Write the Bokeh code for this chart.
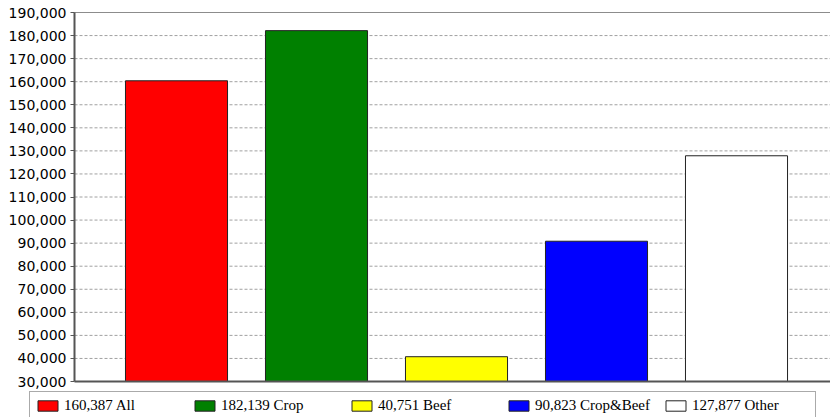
from bokeh.plotting import figure
from bokeh.models import (ColumnDataSource, Range1d, NumeralTickFormatter,
                          FixedTicker, Legend, LegendItem, LinearAxis)
from bokeh.embed import file_html
from bokeh.resources import INLINE

# Herd category averages
categories = ["All", "Crop", "Beef", "Crop&Beef", "Other"]
values = [160387, 182139, 40751, 90823, 127877]
colors = ["#ff0000", "#008000", "#ffff00", "#0000ff", "#ffffff"]
y_ticks = list(range(30000, 190001, 10000))

labels = [f"{v:,} {c}" for v, c in zip(values, categories)]
positions = list(range(1, len(categories) + 1))

# value axis limits and where the axis sits on the category scale
Y_LO, Y_HI = 30000, 190000
X_AXIS_AT, X_END = 0.2714, 5.6714

W, H = 830, 417
PX_PER_X = 140.0                      # pixels per category step
PX_PER_Y = 369.0 / (Y_HI - Y_LO)      # pixels per unit of value
TOP_PAD, BOTTOM_PAD, LEFT_PAD = 12, 36, 74

x_start = X_AXIS_AT - LEFT_PAD / PX_PER_X
y_start = Y_LO - BOTTOM_PAD / PX_PER_Y
y_end = Y_HI + TOP_PAD / PX_PER_Y

source = ColumnDataSource(dict(x=positions, top=values, color=colors, label=labels))

p = figure(width=W, height=H, output_backend="svg", toolbar_location=None,
           x_range=Range1d(x_start, X_END), y_range=Range1d(y_start, y_end),
           x_axis_location=None, y_axis_location=None,
           min_border_left=0, min_border_right=0, min_border_top=0,
           min_border_bottom=0)
p.background_fill_color = "white"
p.border_fill_color = "white"
p.outline_line_color = None
p.xgrid.visible = False
p.ygrid.visible = False

# dashed horizontal grid lines, only across the plotting area
p.segment(x0=X_AXIS_AT, x1=X_END, y0=y_ticks[1:], y1=y_ticks[1:],
          line_color="#a0a0a0", line_dash="3 2", line_width=1)

bars = p.vbar(x="x", top="top", bottom=Y_LO, width=0.729, source=source,
              fill_color="color", line_color="#222222", line_width=1)

# value axis
yaxis = LinearAxis(fixed_location=X_AXIS_AT, bounds=(Y_LO, Y_HI),
                   ticker=FixedTicker(ticks=y_ticks),
                   formatter=NumeralTickFormatter(format="0,0"))
yaxis.major_label_text_font = "DejaVu Sans"
yaxis.major_label_text_font_size = "14px"
yaxis.major_label_text_color = "#000000"
yaxis.major_label_standoff = 4
yaxis.axis_line_color = "#555555"
yaxis.axis_line_width = 2
yaxis.major_tick_line_color = "#555555"
yaxis.major_tick_out = 4
yaxis.major_tick_in = 0
yaxis.minor_tick_line_color = None
p.add_layout(yaxis, "left")

# baseline at the bottom of the bars
xaxis = LinearAxis(fixed_location=Y_LO, bounds=(X_AXIS_AT, X_END),
                   ticker=FixedTicker(ticks=[]))
xaxis.axis_line_color = "#555555"
xaxis.axis_line_width = 2
xaxis.major_tick_line_color = None
xaxis.minor_tick_line_color = None
p.add_layout(xaxis, "below")

# thin frame line along the top
topline = LinearAxis(fixed_location=Y_HI, bounds=(X_AXIS_AT, X_END),
                     ticker=FixedTicker(ticks=[]))
topline.axis_line_color = "#8c8c8c"
topline.axis_line_width = 1
topline.major_tick_line_color = None
topline.minor_tick_line_color = None
p.add_layout(topline, "above")

items = [LegendItem(label=lab, renderers=[bars], index=i) for i, lab in enumerate(labels)]
legend = Legend(items=items, orientation="horizontal", location=(29, -3),
                glyph_width=25, glyph_height=13, label_standoff=4,
                label_width=118, label_height=13, spacing=10,
                padding=5, margin=0,
                label_text_font="Liberation Serif", label_text_font_size="15px",
                label_text_color="#000000",
                border_line_color="#555555", border_line_width=1,
                background_fill_color="white", background_fill_alpha=1.0)
p.add_layout(legend, "center")

open("out.html", "w").write(file_html(p, INLINE))
